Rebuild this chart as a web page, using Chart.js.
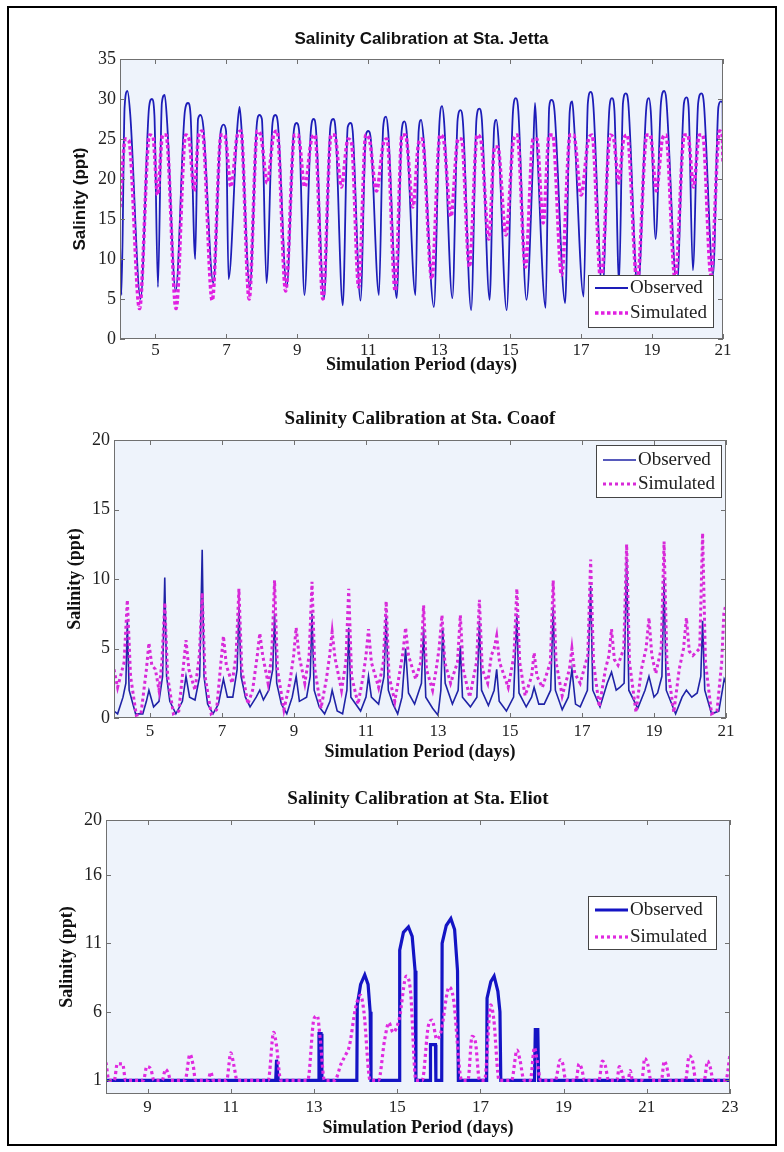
<!DOCTYPE html>
<html>
<head>
<meta charset="utf-8">
<title>Salinity Calibration</title>
<script src="https://cdn.jsdelivr.net/npm/chart.js@4.4.1/dist/chart.umd.min.js"></script>
<style>
  html, body { margin: 0; padding: 0; background: #fff; overflow: hidden; }
  #page { position: relative; width: 784px; height: 1152px; }
  #border { position: absolute; left: 7px; top: 6px; width: 766px; height: 1136px; border: 2px solid #000; }
  canvas { position: absolute; left: 0; }
</style>
</head>
<body>
<div id="page">
  <div id="border"></div>
  <canvas id="jetta" width="784" height="380" style="top:0"></canvas>
  <canvas id="coaof" width="784" height="400" style="top:380px"></canvas>
  <canvas id="eliot" width="784" height="392" style="top:760px"></canvas>
</div>
<script>
// [day, salinity ppt]

const jettaObserved = [
  [4.00,12],[4.04,5.5],[4.13,29],[4.21,31],[4.29,28],[4.58,5],
  [4.82,29],[4.90,30],[4.97,28],[5.07,6.5],
  [5.18,29.5],[5.26,30.5],[5.33,27],[5.57,6],
  [5.83,28.5],[5.92,29.5],[5.99,28],[6.12,10],
  [6.20,27.5],[6.27,28],[6.35,26.5],[6.63,7],
  [6.84,26],[6.92,26.8],[6.99,26],[7.06,7.5],
  [7.30,26],[7.37,29],[7.43,26],[7.66,6.5],
  [7.86,27],[7.93,28],[8.00,27.5],[8.13,7],
  [8.30,27],[8.38,28],[8.45,27],[8.70,6.5],
  [8.90,26],[8.98,27],[9.05,26],[9.20,5.5],
  [9.38,26],[9.46,27.5],[9.52,26.5],[9.75,5],
  [9.93,26.5],[10.01,27.5],[10.08,26],[10.28,4.2],
  [10.42,26.5],[10.50,27],[10.56,26],[10.78,4.8],
  [10.93,25.5],[11.00,26],[11.07,25],[11.30,5.5],
  [11.42,26.5],[11.50,27.8],[11.56,26],[11.80,5.1],
  [11.94,26],[12.02,27.2],[12.08,26],[12.33,5.5],
  [12.42,26],[12.49,27.4],[12.56,25],[12.85,4],
  [13.00,26.5],[13.08,29.1],[13.14,27],[13.37,5.1],
  [13.52,27.5],[13.60,28.6],[13.67,27],[13.90,3.6],
  [14.05,27.5],[14.13,28.8],[14.20,27.5],[14.42,4.9],
  [14.55,26.5],[14.61,27.4],[14.67,25],[14.90,3.6],
  [15.08,28.5],[15.16,30.1],[15.23,28.5],[15.46,4.9],
  [15.64,22],[15.70,29.5],[15.76,24],[16.00,3.9],
  [16.10,29],[16.17,29.9],[16.25,28.5],[16.55,4.5],
  [16.68,28.5],[16.75,29.7],[16.80,27],[17.07,5.3],
  [17.19,29.5],[17.27,30.9],[17.34,29.5],[17.60,6],
  [17.80,29],[17.87,30.1],[17.94,28.5],[18.07,7],
  [18.18,29.5],[18.26,30.7],[18.33,29.5],[18.60,6],
  [18.84,29],[18.91,30.1],[18.97,28],[19.10,12.5],
  [19.25,29.5],[19.34,31],[19.40,30],[19.70,6.5],
  [19.90,29.5],[19.97,30.2],[20.03,29],[20.15,8.6],
  [20.30,29.5],[20.39,30.7],[20.46,29.5],[20.72,8],
  [20.87,29],[20.94,29.7],[20.99,29.5],[21.00,18]
];

const jettaSimulated = [
  [4.00,16.5],[4.15,25],[4.25,24.8],[4.55,3.8],
  [4.83,25.5],[4.93,25.3],[5.06,18],
  [5.20,25.5],[5.30,25.5],[5.58,3.8],
  [5.85,25.5],[5.95,25],[6.09,18.5],
  [6.22,25.5],[6.32,26],[6.60,4.8],
  [6.85,25.5],[6.95,25.5],[7.13,19],
  [7.31,25.5],[7.41,26],[7.64,5],
  [7.87,26],[7.97,25.5],[8.15,19.5],
  [8.33,25.5],[8.43,26],[8.67,6],
  [8.92,25.5],[9.02,25.5],[9.21,19],
  [9.40,25],[9.50,25.5],[9.72,5],
  [9.95,25.5],[10.05,25.5],[10.24,19],
  [10.43,25],[10.53,24.5],[10.73,6.5],
  [10.93,25.5],[11.03,25],[11.23,18.5],
  [11.43,24.5],[11.53,25],[11.76,6],
  [11.95,25.5],[12.05,25.5],[12.26,16.5],
  [12.42,24.5],[12.52,25],[12.79,7.5],
  [13.02,25.5],[13.12,25],[13.33,15.3],
  [13.53,25],[13.63,25],[13.85,9],
  [14.07,25.5],[14.17,25],[14.40,12.5],
  [14.56,24],[14.65,24],[14.88,13],
  [15.10,25],[15.20,25.5],[15.43,9],
  [15.65,25],[15.75,25],[15.93,14.5],
  [16.10,25.5],[16.20,25.5],[16.45,8],
  [16.69,25.5],[16.79,25.5],[17.00,18],
  [17.21,25],[17.31,25.5],[17.56,7],
  [17.82,25.5],[17.92,25],[18.06,19.5],
  [18.20,25],[18.30,25.5],[18.58,7],
  [18.85,25.5],[18.95,25.5],[19.12,18.5],
  [19.29,25],[19.39,25.5],[19.65,7.5],
  [19.91,25.5],[20.01,25.5],[20.17,19],
  [20.33,25.5],[20.43,25.5],[20.66,8],
  [20.90,26],[20.98,25.5],[21.00,22]
];

const coaofObserved = [
  [4.00,0.5],[4.10,0.3],[4.25,1.5],[4.33,2.5],[4.37,7],[4.42,2],[4.60,0.3],[4.80,0.3],
  [4.90,1.2],[4.97,2],[5.10,0.8],[5.25,1.2],[5.35,3],[5.41,10.1],[5.46,3],[5.55,1.2],
  [5.72,0.3],[5.90,1.2],[6.00,3],[6.10,1.5],[6.25,1.3],[6.38,3],[6.45,12.1],[6.50,3],
  [6.60,1],[6.75,0.3],[6.90,1],[7.04,2.8],[7.15,1.5],[7.30,1.5],[7.42,3.5],[7.47,8],
  [7.53,3],[7.65,1.5],[7.78,0.8],[7.95,1.5],[8.05,2],[8.15,1.3],[8.30,2],[8.41,3.5],
  [8.46,7.5],[8.52,2.5],[8.65,1],[8.80,0.3],[8.95,1.5],[9.06,3],[9.15,1.2],[9.35,1.5],
  [9.45,3],[9.50,7.5],[9.56,2],[9.70,0.8],[9.85,0.3],[10.00,1.2],[10.06,2],[10.20,0.5],
  [10.35,0.3],[10.47,2],[10.52,6.5],[10.58,1.5],[10.85,0.5],[11.00,1.5],[11.07,3],
  [11.15,1.5],[11.35,1],[11.50,3],[11.56,7.5],[11.62,2],[11.75,1],[11.88,0.3],[12.00,1.5],
  [12.10,5],[12.18,1.8],[12.35,1],[12.54,2.5],[12.60,6.5],[12.66,1.5],[12.85,0.7],
  [13.00,0.2],[13.08,2],[13.13,6.5],[13.20,2.5],[13.40,1],[13.56,2],[13.62,5.2],
  [13.68,1.5],[13.90,0.8],[14.08,1.5],[14.15,7],[14.21,2],[14.40,0.9],[14.56,2],
  [14.63,3.5],[14.70,1.2],[14.90,0.5],[15.10,1.5],[15.19,7.5],[15.25,1.8],[15.45,0.8],
  [15.60,1.5],[15.67,2.2],[15.80,1],[15.95,1],[16.13,2],[16.20,8],[16.26,2],[16.45,0.6],
  [16.62,1.5],[16.72,3.5],[16.82,1],[16.95,0.8],[17.15,2],[17.24,9.5],[17.30,2],
  [17.50,0.8],[17.70,2.5],[17.82,3.3],[17.95,2],[18.05,2.2],[18.17,2.5],[18.24,11.5],
  [18.30,2],[18.55,0.7],[18.75,2],[18.86,3],[19.00,1.5],[19.10,1.8],[19.22,3],[19.28,10],
  [19.34,2],[19.60,0.3],[19.78,1.5],[19.90,2],[20.05,1.5],[20.20,1.8],[20.30,3],[20.35,7],
  [20.41,2],[20.60,0.3],[20.80,0.5],[20.90,2],[20.95,2.8],[21.00,2.5]
];

const coaofSimulated = [
  [4.00,3.5],[4.10,2.2],[4.28,4],[4.37,8.5],[4.46,3],[4.62,0.2],[4.75,0.3],
  [4.90,3.5],[4.97,5.4],[5.05,3.8],[5.15,3.5],[5.25,2],
  [5.33,4],[5.41,8.3],[5.49,3],[5.65,0.3],[5.80,0.5],
  [5.93,3.8],[6.00,5.6],[6.08,3.5],[6.25,2],
  [6.37,4.5],[6.45,9],[6.53,3],[6.70,0.3],[6.85,0.6],
  [6.97,4],[7.04,5.9],[7.12,3.8],[7.28,2.5],
  [7.39,4.5],[7.47,9.3],[7.55,3.5],[7.72,1],[7.85,2],
  [7.98,4.5],[8.05,6.1],[8.13,4.5],[8.28,2.5],
  [8.38,4.5],[8.46,9.9],[8.54,3.5],[8.72,0.6],[8.88,2.5],
  [8.99,4.5],[9.06,6.5],[9.14,4.5],[9.30,2.5],
  [9.42,4.5],[9.50,9.8],[9.58,3.5],[9.75,0.7],[9.90,2.8],
  [9.99,4.5],[10.06,6.2],[10.14,4.3],[10.32,2],
  [10.44,4],[10.52,9.3],[10.60,3],[10.78,1],[10.92,3],
  [11.00,4.5],[11.07,6.4],[11.15,4],[11.35,2.2],
  [11.48,4],[11.56,8.4],[11.64,3],[11.80,1.2],[11.95,3.5],
  [12.03,4.8],[12.10,6.5],[12.18,4.5],[12.38,2.8],
  [12.52,4],[12.60,8.1],[12.68,3.5],[12.85,2],[12.95,3.5],
  [13.03,5],[13.11,7.4],[13.19,4],[13.35,2.5],
  [13.54,4],[13.62,7.4],[13.70,3.5],[13.88,1.5],
  [14.07,4],[14.15,8.5],[14.23,3.5],[14.38,2.5],[14.48,4.5],
  [14.56,5],[14.63,5.9],[14.71,4],[14.95,2.2],
  [15.11,4.5],[15.19,9.3],[15.27,4],[15.42,1.6],
  [15.60,3],[15.67,4.7],[15.75,3],[15.90,2.2],
  [16.12,4],[16.20,9.9],[16.28,4],[16.45,1.6],
  [16.65,3.5],[16.72,5],[16.80,3.2],[16.95,2.5],
  [17.16,4.5],[17.24,11.4],[17.32,4],[17.48,0.8],[17.65,3.5],
  [17.75,4.5],[17.82,6.4],[17.90,4.2],[18.00,3.8],
  [18.16,5],[18.24,12.5],[18.32,4],[18.50,0.4],[18.65,3.5],
  [18.78,5],[18.86,7.2],[18.94,4.5],[19.05,3.2],
  [19.20,5],[19.28,12.7],[19.36,4],[19.55,0.4],[19.70,3.5],
  [19.82,5],[19.90,7.2],[19.98,4.8],[20.08,4.5],
  [20.27,5],[20.35,13.3],[20.43,4],[20.60,0.3],[20.75,0.5],
  [20.88,4],[20.94,7.5],[21.00,8.2]
];

const eliotObserved = [
  [8.00,1],[12.08,1],[12.10,2.5],[12.14,1],[13.10,1],[13.12,4.4],[13.17,4.4],[13.19,1],
  [14.03,1],[14.04,6.5],[14.12,8],[14.22,8.7],[14.30,8],[14.35,6],[14.37,1],
  [15.05,1],[15.06,10.5],[15.15,11.8],[15.27,12.2],[15.36,11.5],[15.43,9],[15.45,1],
  [15.79,1],[15.80,3.6],[15.92,3.6],[15.93,1],
  [16.07,1],[16.08,11],[16.18,12.3],[16.29,12.8],[16.38,12],[16.45,9],[16.47,1],
  [17.15,1],[17.16,7],[17.25,8.2],[17.33,8.6],[17.42,7.5],[17.47,6],[17.49,1],
  [18.30,1],[18.32,4.7],[18.38,4.7],[18.40,1],[23.00,1]
];

const eliotSimulated = [
  [8.00,2.3],[8.07,1],[8.20,1],[8.27,2.2],[8.40,2.2],[8.47,1],[8.90,1],[8.98,2],[9.08,1.8],
  [9.15,1],[9.35,1],[9.43,1.8],[9.50,1.5],[9.55,1],[9.90,1],[10.02,2.9],[10.10,2],[10.15,1],
  [10.45,1],[10.52,1.6],[10.58,1],[10.90,1],[11.00,3],[11.08,2],[11.15,1],[11.90,1],
  [12.03,4.5],[12.10,3.5],[12.20,1],[12.85,1],[13.00,5.5],[13.08,5.7],[13.15,4],[13.25,1],
  [13.50,1],[13.65,2.2],[13.75,2.8],[13.85,3.5],[14.00,6.3],[14.12,7.2],[14.20,6],[14.35,1],
  [14.55,1],[14.70,4],[14.80,5.2],[14.90,4.5],[15.05,5.5],[15.22,8.6],[15.32,7.5],[15.45,1],
  [15.60,1],[15.75,5],[15.84,5.4],[15.95,4],[16.05,4.5],[16.25,7.8],[16.35,7],[16.55,1],
  [16.70,1],[16.80,4.2],[16.88,3.8],[16.98,1],[17.10,1],[17.25,6.5],[17.32,5.5],[17.45,1],
  [17.75,1],[17.88,3.2],[17.95,2.5],[18.05,1],[18.20,1],[18.30,3.4],[18.36,2.5],[18.45,1],
  [18.80,1],[18.92,2.5],[18.98,2.2],[19.05,1],[19.30,1],[19.37,2.2],[19.44,1.8],[19.50,1],
  [19.85,1],[19.93,2.4],[20.00,2.1],[20.08,1],[20.28,1],[20.34,2],[20.40,1.6],[20.46,1],
  [20.55,1],[20.60,1.7],[20.66,1],[20.88,1],[20.95,2.6],[21.02,2.2],[21.10,1],[21.35,1],
  [21.42,2.4],[21.48,2],[21.55,1],[21.93,1],[22.02,2.8],[22.10,2.4],[22.18,1],[22.38,1],
  [22.46,2.4],[22.52,2],[22.60,1],[22.90,1],[23.00,2.9]
];

const xTicksA = [5, 7, 9, 11, 13, 15, 17, 19, 21];
const xTicksB = [9, 11, 13, 15, 17, 19, 21, 23];
const yTicksJetta = [0, 5, 10, 15, 20, 25, 30, 35];
const yTicksCoaof = [0, 5, 10, 15, 20];
const yTicksEliot = [1, 6, 11, 16, 20];

const SERIF = "'Liberation Serif', 'Times New Roman', serif";
const SANS = "'Liberation Sans', Arial, sans-serif";

// matlab-ish box: light plot background, frame, inward ticks on all 4 sides, legend inside
const frame = {
  id: 'frame',
  beforeDatasetsDraw(chart) {
    const { ctx, chartArea: a } = chart;
    ctx.save();
    ctx.fillStyle = '#eef3fb';
    ctx.fillRect(a.left, a.top, a.right - a.left, a.bottom - a.top);
    ctx.restore();
  },
  afterDatasetsDraw(chart, args, opts) {
    const { ctx, chartArea: a, scales } = chart;
    ctx.save();
    ctx.strokeStyle = '#707070';
    ctx.lineWidth = 1;
    ctx.strokeRect(a.left + 0.5, a.top + 0.5, a.right - a.left - 1, a.bottom - a.top - 1);
    ctx.beginPath();
    scales.x.ticks.forEach(t => {
      const px = Math.round(scales.x.getPixelForValue(t.value)) + 0.5;
      ctx.moveTo(px, a.bottom); ctx.lineTo(px, a.bottom - 5);
      ctx.moveTo(px, a.top); ctx.lineTo(px, a.top + 5);
    });
    scales.y.ticks.forEach(t => {
      const py = Math.round(scales.y.getPixelForValue(t.value)) + 0.5;
      ctx.moveTo(a.left, py); ctx.lineTo(a.left + 5, py);
      ctx.moveTo(a.right, py); ctx.lineTo(a.right - 5, py);
    });
    ctx.stroke();

    const b = opts.box;
    ctx.fillStyle = '#ffffff';
    ctx.fillRect(b.x, b.y, b.w, b.h);
    ctx.strokeStyle = '#444';
    ctx.strokeRect(b.x + 0.5, b.y + 0.5, b.w, b.h);
    chart.data.datasets.forEach((ds, i) => {
      const y = b.y + b.rows[i];
      ctx.strokeStyle = ds.borderColor;
      ctx.lineWidth = ds.borderWidth;
      ctx.setLineDash(ds.borderDash || []);
      ctx.beginPath();
      ctx.moveTo(b.x + 7, y);
      ctx.lineTo(b.x + 40, y);
      ctx.stroke();
      ctx.setLineDash([]);
      ctx.fillStyle = '#222';
      ctx.font = '19px ' + SERIF;
      ctx.textBaseline = 'middle';
      ctx.fillText(ds.label, b.x + 42, y);
    });
    ctx.restore();
  }
};

const pts = pairs => pairs.map(([x, y]) => ({ x, y }));

function makeChart(id, o) {
  return new Chart(document.getElementById(id), {
    type: 'line',
    data: {
      datasets: [
        {
          label: 'Observed', data: pts(o.observed), order: 1,
          borderColor: o.obsColor, borderWidth: o.obsWidth, pointRadius: 0,
          cubicInterpolationMode: o.obsSmooth ? 'monotone' : 'default', tension: 0
        },
        {
          label: 'Simulated', data: pts(o.simulated), order: 0,
          borderColor: o.simColor, borderWidth: o.simWidth, borderDash: o.dash, pointRadius: 0,
          cubicInterpolationMode: o.simSmooth ? 'monotone' : 'default', tension: 0
        }
      ]
    },
    options: {
      responsive: false,
      animation: false,
      events: [],
      layout: { padding: { left: 0, right: o.padRight, top: 0, bottom: 0 } },
      plugins: {
        legend: { display: false },
        tooltip: { enabled: false },
        title: {
          display: true, fullSize: false, text: o.title, color: '#111',
          font: o.titleFont, padding: o.titlePad
        },
        frame: { box: o.legendBox }
      },
      scales: {
        x: {
          type: 'linear', min: o.xMin, max: o.xMax,
          afterBuildTicks: s => { s.ticks = o.xTicks.map(v => ({ value: v })); },
          afterFit: s => { s.height = o.xHeight; },
          grid: { display: false, drawTicks: false },
          border: { display: false },
          ticks: {
            font: { family: SERIF, size: 17 }, color: '#222', padding: o.xTickPad,
            maxRotation: 0, autoSkip: false, callback: v => String(v)
          },
          title: {
            display: true, text: 'Simulation Period (days)', color: '#111',
            font: { family: SERIF, size: 18, weight: 'bold' },
            padding: { top: 0, bottom: o.xTitlePad }
          }
        },
        y: {
          type: 'linear', min: o.yMin, max: o.yMax,
          afterBuildTicks: s => { s.ticks = o.yTicks.map(v => ({ value: v })); },
          afterFit: s => { s.width = o.yWidth; },
          grid: { display: false, drawTicks: false },
          border: { display: false },
          ticks: {
            font: { family: SERIF, size: 18 }, color: '#222', padding: 4,
            autoSkip: false, callback: v => String(v)
          },
          title: {
            display: true, text: 'Salinity (ppt)', color: '#111',
            font: o.yTitleFont,
            padding: { top: o.yTitlePad, bottom: 0 }
          }
        }
      }
    },
    plugins: [frame]
  });
}

makeChart('jetta', {
  title: 'Salinity Calibration at Sta. Jetta',
  titleFont: { family: SANS, size: 17, weight: 'bold' },
  titlePad: { top: 28.8, bottom: 9.8 },
  observed: jettaObserved, simulated: jettaSimulated,
  obsColor: '#1d1db8', obsWidth: 1.8, obsSmooth: true,
  simColor: '#e11fe1', simWidth: 3.5, dash: [3.5, 2.5], simSmooth: true,
  xMin: 4, xMax: 21, xTicks: xTicksA, xHeight: 41, xTickPad: 1, xTitlePad: 4.2,
  yMin: 0, yMax: 35, yTicks: yTicksJetta, yWidth: 120,
  yTitleFont: { family: SANS, size: 17, weight: 'bold' }, yTitlePad: 69.8,
  padRight: 61,
  legendBox: { x: 588, y: 275, w: 125, h: 52, rows: [13, 38] }
});

makeChart('coaof', {
  title: 'Salinity Calibration at Sta. Coaof',
  titleFont: { family: SERIF, size: 19, weight: 'bold' },
  titlePad: { top: 27.6, bottom: 9.6 },
  observed: coaofObserved, simulated: coaofSimulated,
  obsColor: '#1f23a6', obsWidth: 1.6, obsSmooth: false,
  simColor: '#d82ad8', simWidth: 3, dash: [3, 3], simSmooth: false,
  xMin: 4, xMax: 21, xTicks: xTicksA, xHeight: 62, xTickPad: 3.5, xTitlePad: 17.2,
  yMin: 0, yMax: 20, yTicks: yTicksCoaof, yWidth: 114,
  yTitleFont: { family: SERIF, size: 18, weight: 'bold' }, yTitlePad: 64.2,
  padRight: 58,
  legendBox: { x: 596, y: 65, w: 125, h: 52, rows: [15, 39] }
});

makeChart('eliot', {
  title: 'Salinity Calibration at Sta. Eliot',
  titleFont: { family: SERIF, size: 19, weight: 'bold' },
  titlePad: { top: 27.6, bottom: 9.6 },
  observed: eliotObserved, simulated: eliotSimulated,
  obsColor: '#1414c4', obsWidth: 3.2, obsSmooth: false,
  simColor: '#e02ae0', simWidth: 3.2, dash: [3, 3], simSmooth: true,
  xMin: 8, xMax: 23, xTicks: xTicksB, xHeight: 58, xTickPad: 3.8, xTitlePad: 13.2,
  yMin: 0, yMax: 20, yTicks: yTicksEliot, yWidth: 106,
  yTitleFont: { family: SERIF, size: 18, weight: 'bold' }, yTitlePad: 56.2,
  padRight: 54,
  legendBox: { x: 588, y: 136, w: 128, h: 53, rows: [14, 41] }
});
</script>
</body>
</html>
